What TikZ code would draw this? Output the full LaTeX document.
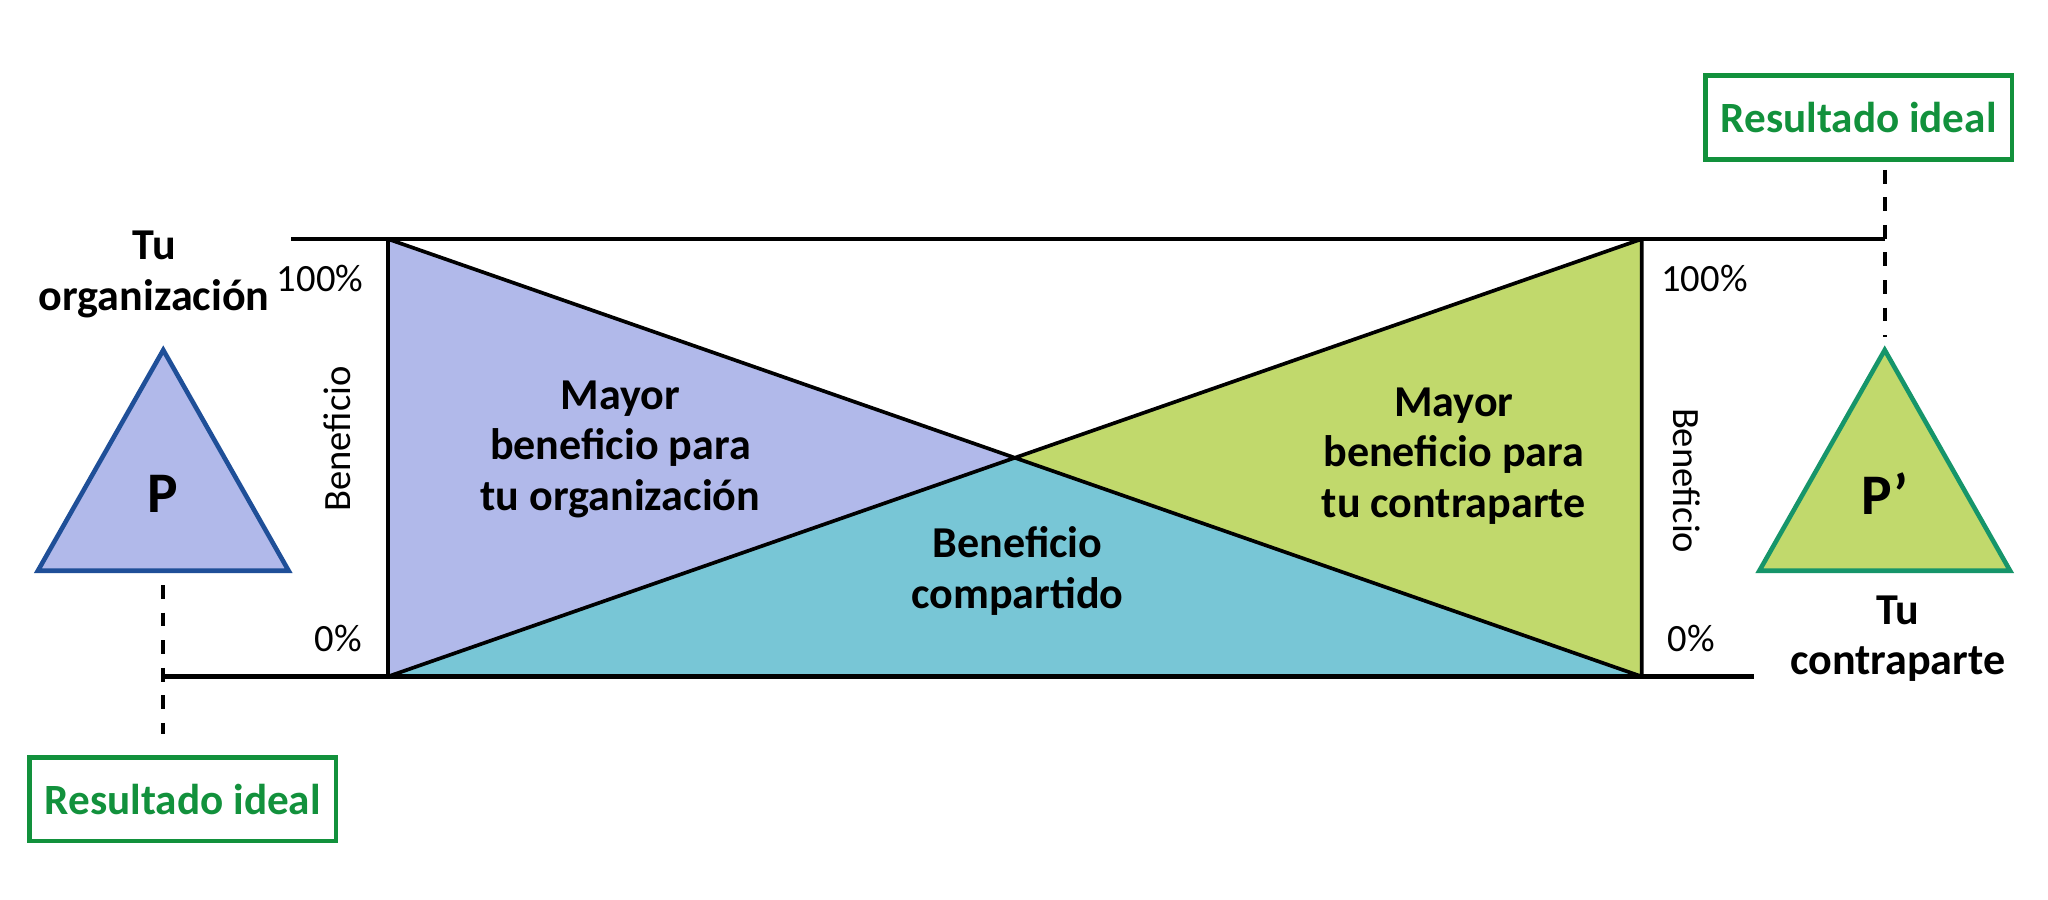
\documentclass[tikz,border=0pt]{standalone}
\usepackage{fontspec}
\setmainfont{Carlito}
\definecolor{bluef}{HTML}{B1B9EA}
\definecolor{tealf}{HTML}{78C6D6}
\definecolor{greenf}{HTML}{C1D96C}
\definecolor{boxg}{HTML}{12913C}
\definecolor{pblue}{HTML}{1F4F98}
\definecolor{pgreen}{HTML}{16956A}
\tikzset{
 lbl/.style={font=\bfseries\fontsize{9.6}{11}\selectfont,align=center},
 pct/.style={font=\fontsize{8.4}{10}\selectfont},
 ideal/.style={draw=boxg,line width=1pt,text=boxg,font=\bfseries\fontsize{9.4}{12}\selectfont,minimum width=2.33cm,minimum height=0.64cm},
 dsh/.style={line width=0.8pt,dash pattern=on 3pt off 3pt},
}
\begin{document}
\begin{tikzpicture}[x=0.01cm,y=-0.01cm]
\useasboundingbox (0,0) rectangle (1568,689);
\coordinate (TL) at (297,183); \coordinate (BL) at (297,518);
\coordinate (TR) at (1257,183); \coordinate (BR) at (1257,518);
\coordinate (X) at (778,351);
\fill[bluef] (TL)--(X)--(BL)--cycle;
\fill[tealf] (BL)--(X)--(BR)--cycle;
\fill[greenf] (TR)--(X)--(BR)--cycle;
\draw[line width=0.8pt] (TL)--(BR) (BL)--(TR) (TL)--(BL) (TR)--(BR);
\draw[line width=1pt] (223,183)--(1443,183) (125,518)--(1343,518);
\draw[pblue,fill=bluef,line width=1pt] (125,268)--(221,437)--(29,437)--cycle;
\draw[pgreen,fill=greenf,line width=1pt] (1443,268)--(1539,437)--(1347,437)--cycle;
\node[font=\bfseries\fontsize{12.5}{14}\selectfont] (p) at (125,378) {P};
\node[font=\bfseries\fontsize{12.5}{14}\selectfont] (pp) at (1443,378) {P\symbol{39}};
\node[ideal] (il) at (140,612) {Resultado ideal};
\node[ideal] (ir) at (1423,90) {Resultado ideal};
\coordinate (dl1) at (125,448); \coordinate (dl2) at (125,562);
\coordinate (dr1) at (1443,130); \coordinate (dr2) at (1443,258);
\draw[dsh] (dl1)--(dl2);
\draw[dsh] (dr1)--(dr2);
\node[lbl] (to) at (118,210) {Tu\\organización};
\node[lbl] (tc) at (1453,489) {Tu\\contraparte};
\node[pct] (a1) at (245,213) {100\%};
\node[pct] (a0) at (259,489) {0\%};
\node[pct] (b1) at (1305,213) {100\%};
\node[pct] (b0) at (1295,489) {0\%};
\node[pct,rotate=90] (bl) at (258,336) {Beneficio};
\node[pct,rotate=-90] (br) at (1291,368) {Beneficio};
\node[lbl] (m1) at (475,344) {Mayor\\beneficio para\\tu organización};
\node[lbl] (m2) at (1113,349) {Mayor\\beneficio para\\tu contraparte};
\node[lbl] (bc) at (779,437) {Beneficio\\compartido};
\end{tikzpicture}
\end{document}
